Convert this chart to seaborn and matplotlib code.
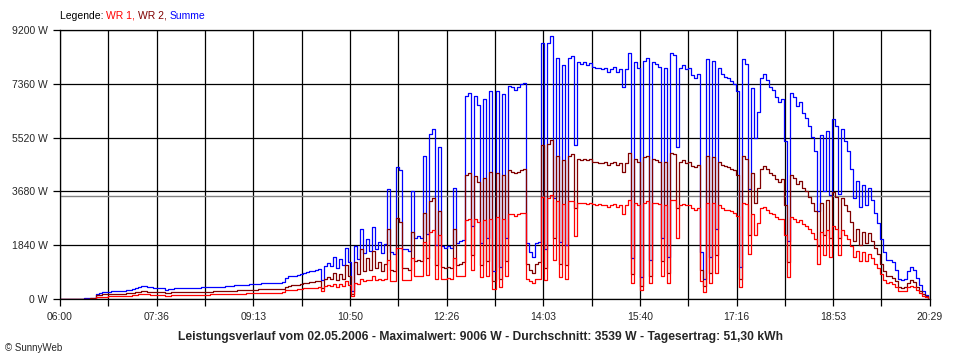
import numpy as np
import pandas as pd
import matplotlib
matplotlib.use('Agg')
import matplotlib.pyplot as plt
import seaborn as sns

# Power readings in W, one every 3 minutes from 06:00 (one row per hour)
wr2 = [
    0, 0, 0, 0, 0, 0, 0, 10, 15, 15, 20, 25, 120, 140, 155, 160, 165, 170, 175, 175,
    180, 185, 190, 195, 215, 235, 255, 270, 265, 250, 245, 240, 235, 230, 235, 200, 210, 225, 230, 235,
    235, 235, 238, 240, 240, 242, 245, 248, 250, 252, 255, 258, 260, 262, 265, 270, 275, 285, 290, 292,
    295, 300, 305, 308, 312, 318, 325, 328, 330, 330, 330, 332, 335, 340, 345, 420, 460, 465, 470, 490,
    520, 540, 560, 575, 590, 610, 630, 380, 690, 760, 700, 900, 650, 860, 700, 1150, 800, 180, 1250, 850,
    1700, 950, 1400, 1000, 1650, 1050, 1250, 950, 1200, 2400, 1000, 950, 2780, 2650, 1050, 1050, 1000, 2300, 1300, 1350,
    1300, 2950, 1400, 3350, 3450, 1150, 3000, 1100, 1050, 1100, 1050, 2400, 1150, 1200, 1250, 4250, 4300, 1500, 4200, 4000,
    1150, 4150, 1300, 4350, 600, 4300, 700, 4250, 1300, 4400, 4350, 4300, 4350, 4400, 4450, 1200, 1000, 900, 1200, 1250,
    5250, 1050, 5300, 5450, 2100, 4900, 1200, 4750, 1150, 4900, 4950, 3100, 4800, 4750, 4800, 4750, 4780, 4700, 4700, 4650,
    4650, 4700, 4600, 4650, 4700, 4600, 4650, 4350, 4650, 5000, 850, 4800, 4700, 450, 4850, 4900, 800, 4800, 4750, 4700,
    1300, 4700, 900, 5000, 4950, 3100, 4700, 4750, 4650, 4700, 4550, 4500, 4600, 1000, 450, 4900, 900, 4850, 1500, 4700,
    4600, 4550, 4500, 4450, 4400, 4250, 700, 4900, 4800, 2200, 4300, 3300, 3800, 4450, 4550, 4450, 4300, 4250, 4100, 4000,
    4100, 3200, 1250, 4250, 4150, 3950, 4050, 3800, 3700, 3500, 3300, 3000, 1800, 3300, 2200, 3400, 2100, 3650, 3500, 2100,
    3450, 3200, 3000, 2650, 2000, 2400, 1850, 2300, 1900, 2250, 2000, 1750, 1550, 1200, 950, 800, 780, 720, 600, 400,
    380, 400, 560, 650, 580, 420, 280, 160, 90, 30,
]
wr1 = [
    0, 0, 0, 0, 0, 0, 0, 0, 5, 5, 5, 10, 55, 70, 80, 85, 90, 95, 95, 100,
    100, 105, 105, 110, 125, 140, 160, 175, 170, 155, 150, 145, 140, 135, 130, 110, 115, 130, 135, 140,
    140, 140, 142, 143, 145, 146, 148, 150, 150, 152, 155, 157, 158, 160, 162, 165, 170, 175, 180, 182,
    185, 188, 190, 192, 195, 198, 205, 208, 210, 212, 215, 215, 218, 222, 228, 300, 315, 318, 320, 330,
    350, 360, 370, 375, 380, 390, 400, 260, 430, 470, 440, 520, 420, 500, 450, 600, 480, 110, 560, 520,
    700, 620, 660, 640, 800, 660, 700, 640, 680, 1350, 620, 600, 1750, 1750, 650, 660, 640, 1400, 780, 800,
    780, 1950, 820, 2300, 2350, 700, 2200, 700, 680, 720, 700, 1400, 780, 800, 780, 2700, 2750, 1000, 2750, 2650,
    750, 2700, 800, 2750, 350, 2800, 400, 2750, 800, 2900, 2900, 2850, 2900, 2950, 2950, 700, 600, 550, 700, 700,
    3500, 650, 3450, 3550, 1350, 3350, 750, 3250, 700, 3350, 3350, 2150, 3300, 3300, 3300, 3250, 3280, 3250, 3200, 3250,
    3200, 3200, 3150, 3200, 3250, 3150, 3200, 2900, 3200, 3400, 550, 3300, 3200, 300, 3300, 3350, 550, 3300, 3300, 3250,
    800, 3200, 550, 3400, 3400, 2100, 3200, 3250, 3200, 3200, 3100, 3050, 3100, 600, 250, 3300, 550, 3300, 900, 3200,
    3100, 3050, 3050, 3000, 2950, 2850, 400, 3300, 3250, 1550, 2900, 2200, 2600, 3100, 3150, 3050, 2950, 2900, 2800, 2750,
    2750, 2200, 750, 2800, 2750, 2650, 2700, 2550, 2500, 2400, 2250, 2050, 1200, 2300, 1500, 2350, 1450, 2500, 2400, 1500,
    2350, 2200, 2050, 1800, 1450, 1650, 1300, 1600, 1300, 1550, 1400, 1200, 1050, 850, 650, 550, 570, 530, 400, 280,
    260, 280, 400, 450, 400, 300, 200, 110, 60, 20,
]
y_ticks = [0, 1840, 3680, 5520, 7360, 9200]
x_labels = ['06:00', '07:36', '09:13', '10:50', '12:26', '14:03', '15:40', '17:16', '18:53', '20:29']
average = 3539
title = ('Leistungsverlauf vom 02.05.2006 - Maximalwert: 9006 W - '
         'Durchschnitt: 3539 W - Tagesertrag: 51,30 kWh')

df = pd.DataFrame({
    'time': pd.date_range('2006-05-02 06:00', periods=len(wr1), freq='3min'),
    'WR 1': wr1,
    'WR 2': wr2,
})
df['Summe'] = df['WR 1'] + df['WR 2']

sns.set_style('white')
plt.rcParams['font.family'] = ['Liberation Sans', 'DejaVu Sans']

fig = plt.figure(figsize=(9.6, 3.6), dpi=100)
ax = fig.add_axes([60 / 960, 1 - 299 / 360, 870 / 960, 269 / 360])

line_kw = dict(lw=0.9, drawstyle='steps-post', ax=ax)
sns.lineplot(data=df, x='time', y='Summe', color='#0000ff', **line_kw)
sns.lineplot(data=df, x='time', y='WR 2', color='#800000', **line_kw)
sns.lineplot(data=df, x='time', y='WR 1', color='#ff0000', **line_kw)
ax.axhline(average, color='#808080', lw=1, zorder=1)

t0 = pd.Timestamp('2006-05-02 06:00')
t1 = pd.Timestamp('2006-05-02 20:29')
step = (t1 - t0) / 18
xticks = [t0 + k * step for k in range(19)]
ax.set_xlim(t0, t1)
ax.set_ylim(0, 9200)
ax.set_xticks(xticks)
ax.set_xticklabels([x_labels[k // 2] if k % 2 == 0 else '' for k in range(19)])
ax.set_yticks(y_ticks)
ax.set_yticklabels([f'{v} W' for v in y_ticks])
ax.set_xlabel('')
ax.set_ylabel('')
ax.grid(True, color='black', lw=0.9)
ax.set_axisbelow(True)
ax.tick_params(axis='both', direction='out', length=5, width=0.9, color='black',
               labelsize=7.5, pad=4, left=True, bottom=True)
for s in ax.spines.values():
    s.set_color('black')
    s.set_linewidth(0.9)

# coloured legend line above the plot
parts = [('Legende: ', 'black'), ('WR 1, ', '#ff0000'), ('WR 2, ', '#800000'), ('Summe', '#0000ff')]
txt = None
for s, c in parts:
    if txt is None:
        txt = fig.text(60 / 960, 1 - 16 / 360, s, color=c, fontsize=7.5, va='center', ha='left')
    else:
        txt = ax.annotate(s, xycoords=txt, xy=(1, 0), va='bottom', ha='left', color=c, fontsize=7.5)

fig.text(480 / 960, 1 - 337 / 360, title, fontsize=8.7, fontweight='bold', ha='center', va='center')
fig.text(5 / 960, 1 - 348 / 360, '© SunnyWeb', fontsize=7, ha='left', va='center')

fig.savefig('out.png', dpi=100)
